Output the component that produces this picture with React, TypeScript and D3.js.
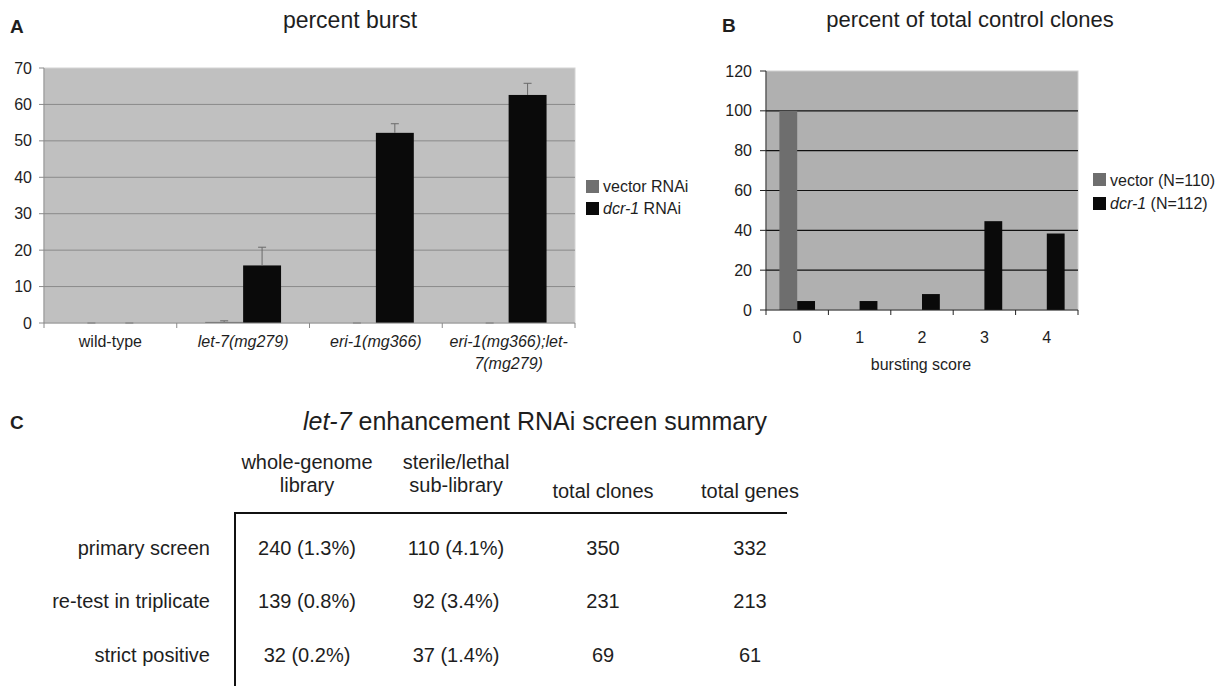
import React from 'react';
import * as d3 from 'd3';

// Panel A: percent burst
const strainsA = ['wild-type', 'let-7(mg279)', 'eri-1(mg366)', 'eri-1(mg366);let-7(mg279)'];
const strainLines = [['wild-type'], ['let-7(mg279)'], ['eri-1(mg366)'], ['eri-1(mg366);let-', '7(mg279)']];
const vectorA = [0, 0.3, 0, 0];
const vectorErrA = [0, 0.3, 0, 0];
const dcrA = [0, 15.8, 52.2, 62.6];
const dcrErrA = [0, 5.0, 2.5, 3.2];
const ticksA = [0, 10, 20, 30, 40, 50, 60, 70];

// Panel B: percent of total control clones
const scoresB = ['0', '1', '2', '3', '4'];
const vectorB = [100, 0, 0, 0, 0];
const dcrB = [4.5, 4.5, 8.0, 44.6, 38.4];
const ticksB = [0, 20, 40, 60, 80, 100, 120];

// Panel C: screen summary table
const colHeaders = [['whole-genome', 'library'], ['sterile/lethal', 'sub-library'], ['total clones'], ['total genes']];
const rowLabels = ['primary screen', 're-test in triplicate', 'strict positive'];
const tableValues = [
  ['240 (1.3%)', '110 (4.1%)', '350', '332'],
  ['139 (0.8%)', '92 (3.4%)', '231', '213'],
  ['32 (0.2%)', '37 (1.4%)', '69', '61'],
];

const FONT = '"Liberation Sans", Arial, sans-serif';
const TXT = '#1e1e1e';

const App = () => {
  // ---- A scales
  const xA = d3.scaleBand<string>().domain(strainsA).range([44, 575]).padding(0);
  const innerA = d3.scaleBand<string>().domain(['v', 'd']).range([0, xA.bandwidth()]).paddingInner(0).paddingOuter(0.75);
  const yA = d3.scaleLinear().domain([0, 70]).range([323, 68]);

  // ---- B scales
  const xB = d3.scaleBand<string>().domain(scoresB).range([766, 1078]).padding(0);
  const innerB = d3.scaleBand<string>().domain(['v', 'd']).range([0, xB.bandwidth()]).paddingInner(0).paddingOuter(0.75);
  const yB = d3.scaleLinear().domain([0, 120]).range([310, 71]);

  const colX = [307, 456, 603, 750];
  const rowY = [555, 608, 662];

  const errBar = (cx: number, v: number, e: number, key: string) => (
    <g key={key} stroke="#6a6a6a" strokeWidth={1}>
      <line x1={cx} x2={cx} y1={yA(v)} y2={yA(v + e)} />
      <line x1={cx - 4} x2={cx + 4} y1={yA(v + e)} y2={yA(v + e)} />
    </g>
  );

  return (
    <div style={{ position: 'absolute', left: 0, top: 0 }}>
      <svg width={1229} height={686} style={{ display: 'block', background: '#fff' }} fontFamily={FONT}>
        {/* ===== Panel A ===== */}
        <text x={10} y={33} fontSize={19} fontWeight="bold" fill={TXT}>A</text>
        <text x={350} y={28} fontSize={23} textAnchor="middle" fill={TXT}>percent burst</text>
        <rect x={44} y={68} width={531} height={255} fill="#c0c0c0" stroke="#d4d4d4" strokeWidth={1} />
        {ticksA.filter(t => t > 0 && t < 70).map(t => (
          <line key={t} x1={44} x2={575} y1={yA(t)} y2={yA(t)} stroke="#8a8a8a" strokeWidth={1} />
        ))}
        {strainsA.map((s, i) => {
          const x0 = xA(s)!;
          return (
            <g key={s}>
              <rect x={x0 + innerA('v')!} y={yA(vectorA[i])} width={innerA.bandwidth()} height={yA(0) - yA(vectorA[i])} fill="#707070" />
              <rect x={x0 + innerA('d')!} y={yA(dcrA[i])} width={innerA.bandwidth()} height={yA(0) - yA(dcrA[i])} fill="#0a0a0a" />
              {errBar(x0 + innerA('v')! + innerA.bandwidth() / 2, vectorA[i], vectorErrA[i], 'ev')}
              {errBar(x0 + innerA('d')! + innerA.bandwidth() / 2, dcrA[i], dcrErrA[i], 'ed')}
            </g>
          );
        })}
        <line x1={44} x2={44} y1={68} y2={323} stroke="#8a8a8a" />
        <line x1={44} x2={575} y1={323} y2={323} stroke="#8a8a8a" />
        {ticksA.map(t => (
          <g key={t}>
            <line x1={39} x2={44} y1={yA(t)} y2={yA(t)} stroke="#8a8a8a" />
            <text x={32} y={yA(t) + 5.5} fontSize={16} textAnchor="end" fill={TXT}>{t}</text>
          </g>
        ))}
        {[...strainsA.map(s => xA(s)!), 575].map((x, i) => (
          <line key={i} x1={x} x2={x} y1={323} y2={328} stroke="#8a8a8a" />
        ))}
        {strainLines.map((lines, i) => (
          <text key={i} x={xA(strainsA[i])! + xA.bandwidth() / 2} y={347} fontSize={16} textAnchor="middle" fill={TXT}
            fontStyle={i === 0 ? 'normal' : 'italic'}>
            {lines.map((l, j) => (
              <tspan key={j} x={xA(strainsA[i])! + xA.bandwidth() / 2} dy={j === 0 ? 0 : 22}>{l}</tspan>
            ))}
          </text>
        ))}
        {/* legend A */}
        <rect x={586} y={180} width={13} height={13} fill="#707070" />
        <rect x={586} y={202} width={13} height={13} fill="#0a0a0a" />
        <text x={603} y={192} fontSize={16} fill={TXT}>vector RNAi</text>
        <text x={603} y={214} fontSize={16} fill={TXT}>
          <tspan fontStyle="italic">dcr-1</tspan> RNAi
        </text>

        {/* ===== Panel B ===== */}
        <text x={722} y={32} fontSize={19} fontWeight="bold" fill={TXT}>B</text>
        <text x={970} y={27} fontSize={22} textAnchor="middle" fill={TXT}>percent of total control clones</text>
        <rect x={766} y={71} width={312} height={239} fill="#b0b0b0" stroke="#d0d0d0" strokeWidth={1} />
        {ticksB.filter(t => t > 0 && t < 120).map(t => (
          <line key={t} x1={766} x2={1078} y1={yB(t)} y2={yB(t)} stroke="#111" strokeWidth={1.2} />
        ))}
        {scoresB.map((s, i) => {
          const x0 = xB(s)!;
          return (
            <g key={s}>
              <rect x={x0 + innerB('v')!} y={yB(vectorB[i])} width={innerB.bandwidth()} height={yB(0) - yB(vectorB[i])} fill="#6e6e6e" />
              <rect x={x0 + innerB('d')!} y={yB(dcrB[i])} width={innerB.bandwidth()} height={yB(0) - yB(dcrB[i])} fill="#0a0a0a" />
            </g>
          );
        })}
        <line x1={766} x2={766} y1={71} y2={310} stroke="#222" />
        <line x1={766} x2={1078} y1={310} y2={310} stroke="#222" />
        {ticksB.map(t => (
          <g key={t}>
            <line x1={760} x2={766} y1={yB(t)} y2={yB(t)} stroke="#222" />
            <text x={752} y={yB(t) + 5.5} fontSize={16} textAnchor="end" fill={TXT}>{t}</text>
          </g>
        ))}
        {[...scoresB.map(s => xB(s)!), 1078].map((x, i) => (
          <line key={i} x1={x} x2={x} y1={310} y2={315} stroke="#222" />
        ))}
        {scoresB.map(s => (
          <text key={s} x={xB(s)! + xB.bandwidth() / 2} y={343} fontSize={16} textAnchor="middle" fill={TXT}>{s}</text>
        ))}
        <text x={921} y={370} fontSize={16} textAnchor="middle" fill={TXT}>bursting score</text>
        {/* legend B */}
        <rect x={1093} y={173} width={13} height={13} fill="#6e6e6e" />
        <rect x={1093} y={197} width={13} height={13} fill="#0a0a0a" />
        <text x={1110} y={186} fontSize={16} fill={TXT}>vector (N=110)</text>
        <text x={1110} y={209} fontSize={16} fill={TXT}>
          <tspan fontStyle="italic">dcr-1</tspan> (N=112)
        </text>

        {/* ===== Panel C ===== */}
        <text x={10} y={429} fontSize={19} fontWeight="bold" fill={TXT}>C</text>
        <text x={535} y={430} fontSize={25} textAnchor="middle" fill={TXT}>
          <tspan fontStyle="italic">let-7</tspan> enhancement RNAi screen summary
        </text>
        {colHeaders.map((lines, i) => (
          <text key={i} x={colX[i]} y={lines.length === 2 ? 469 : 498} fontSize={20} textAnchor="middle" fill={TXT}>
            {lines.map((l, j) => (
              <tspan key={j} x={colX[i]} dy={j === 0 ? 0 : 23}>{l}</tspan>
            ))}
          </text>
        ))}
        <line x1={235} x2={787} y1={513} y2={513} stroke="#111" strokeWidth={2} />
        <line x1={235} x2={235} y1={512} y2={686} stroke="#111" strokeWidth={2} />
        {rowLabels.map((r, i) => (
          <text key={r} x={210} y={rowY[i]} fontSize={20} textAnchor="end" fill={TXT}>{r}</text>
        ))}
        {tableValues.map((row, i) => row.map((v, j) => (
          <text key={`${i}-${j}`} x={colX[j]} y={rowY[i]} fontSize={20} textAnchor="middle" fill={TXT}>{v}</text>
        )))}
      </svg>
    </div>
  );
};

export default App;
